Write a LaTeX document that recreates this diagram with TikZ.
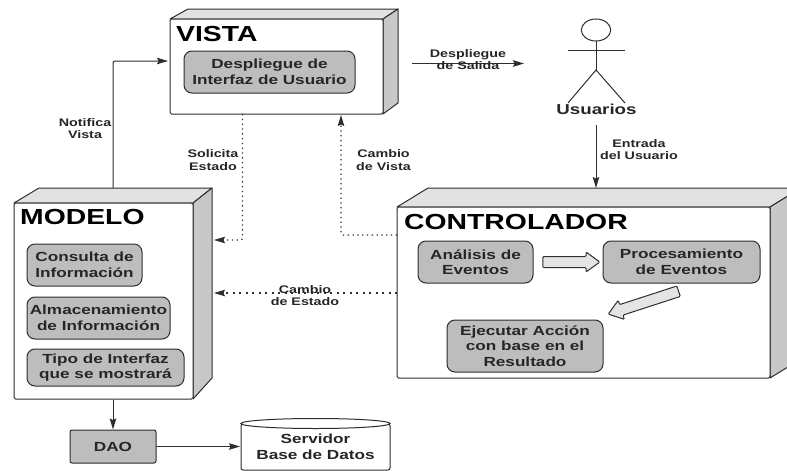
\documentclass[tikz,border=0pt]{standalone}
\usepackage{fontspec}
\setmainfont[FakeStretch=1.3]{Liberation Sans}
\usetikzlibrary{arrows.meta, shapes.arrows}

\definecolor{linegray}{HTML}{2E2E2E}
\definecolor{boxgray}{HTML}{BDBDBD}
\definecolor{sidegray}{HTML}{C8C8C8}
\definecolor{topgray}{HTML}{E2E2E2}
\definecolor{pipegray}{HTML}{E4E4E4}

\tikzset{
  frontbox/.style={draw=linegray, fill=white, line width=1pt, rounded corners=1.5pt, minimum width=#1, inner sep=0pt},
  sideface/.style={draw=linegray, fill=sidegray, line width=1pt, line join=round},
  topface/.style={draw=linegray, fill=topgray, line width=1pt, line join=round},
  titletext/.style={font=\bfseries\fontsize{21.8}{22}\selectfont, text=black, inner sep=0pt, anchor=west},
  actionbox/.style={draw=linegray, fill=boxgray, line width=1pt, rounded corners=8pt, inner sep=0pt, align=center,
    font=\bfseries\fontsize{13.2}{15.5}\selectfont, text=black!85},
  tag/.style={inner sep=0pt, align=center, font=\bfseries\fontsize{11}{12.8}\selectfont, text=black!85},
  flow/.style={draw=linegray, line width=1pt, -{Stealth[length=11pt,width=6.5pt,inset=1.5pt]}},
  polled/.style={flow, line width=1.2pt, dash pattern=on 1.3pt off 3.5pt, rounded corners=2pt},
  polledwide/.style={flow, line width=1.2pt, dash pattern=on 2pt off 4.5pt},
  pipe/.style={single arrow, draw=linegray, fill=pipegray, line width=1pt, inner xsep=0pt, inner ysep=5pt,
    single arrow head extend=4.5pt, single arrow tip angle=72, rounded corners=1pt},
  limb/.style={draw=linegray, line width=1pt},
}

\begin{document}
\begin{tikzpicture}[x=1pt, y=-1pt]
  \clip (0,0) rectangle (787,471);

  % VISTA
  \draw[topface] (170,19) -- (188,9) -- (398,9) -- (383,19) -- cycle;
  \draw[sideface] (383,19) -- (398,9) -- (398,103) -- (383,114) -- cycle;
  \node[frontbox=213pt, minimum height=95pt] (vista) at (276.5,66.5) {};
  \node[titletext] (vistaTitle) at (176,33.5) {VISTA};
  \node[actionbox, minimum width=171pt, minimum height=42pt] (despliegue) at (269.5,72) {Despliegue de\\Interfaz de Usuario};

  % MODELO
  \draw[topface] (14,203) -- (39,188) -- (212,188) -- (193,203) -- cycle;
  \draw[sideface] (193,203) -- (212,188) -- (212,378) -- (193,399) -- cycle;
  \node[frontbox=179pt, minimum height=196pt] (modelo) at (103.5,301) {};
  \node[titletext] (modeloTitle) at (20,217) {MODELO};
  \node[actionbox, minimum width=115pt, minimum height=42pt] (consulta) at (84.5,265) {Consulta de\\Información};
  \node[actionbox, minimum width=143pt, minimum height=42pt] (almacen) at (98.5,318) {Almacenamiento\\de Información};
  \node[actionbox, minimum width=157pt, minimum height=37pt] (tipo) at (105.5,367.5) {Tipo de Interfaz\\que se mostrará};

  % CONTROLADOR
  \draw[topface] (397,207) -- (428,188) -- (801,188) -- (770,207) -- cycle;
  \draw[sideface] (770,207) -- (801,188) -- (801,359) -- (770,378) -- cycle;
  \node[frontbox=373pt, minimum height=171pt] (control) at (583.5,292.5) {};
  \node[titletext] (controlTitle) at (404,222) {CONTROLADOR};
  \node[actionbox, minimum width=115pt, minimum height=42pt] (analisis) at (475.5,262) {Análisis de\\Eventos};
  \node[actionbox, minimum width=157pt, minimum height=42pt] (proceso) at (681.5,262) {Procesamiento\\de Eventos};
  \node[actionbox, minimum width=156pt, minimum height=52pt] (ejecutar) at (525,346) {Ejecutar Acción\\con base en el\\Resultado};
  \node[pipe, minimum height=57pt] (pipeA) at (567.5,262) {};
  \node[pipe, minimum height=74pt, rotate=198] (pipeB) at (647,301.5) {};

  % bottom row
  \node[actionbox, rounded corners=2pt, minimum width=86pt, minimum height=33pt] (dao) at (113,446.5) {DAO};
  \node[draw=linegray, fill=white, line width=1pt, rounded corners=2pt, minimum width=149pt, minimum height=46pt, inner sep=0pt,
    align=center, font=\bfseries\fontsize{13.2}{16.5}\selectfont, text=black!85] (servidor) at (315.5,447) {Servidor\\Base de Datos};
  \draw[draw=linegray, fill=white, line width=1pt] (servidor.north) ellipse (74.5 and 5);

  % actor
  \draw[limb] (596,30) ellipse (14.7 and 11);
  \coordinate (neck) at (596,41);
  \coordinate (hip) at (596,70);
  \coordinate (handL) at (568,50.5);
  \coordinate (handR) at (625,50.5);
  \coordinate (footL) at (568,103);
  \coordinate (footR) at (625,103);
  \draw[limb] (neck) -- (hip);
  \draw[limb] (handL) -- (handR);
  \draw[limb] (footL) -- (hip) -- (footR);
  \node[inner sep=0pt, font=\bfseries\fontsize{14.4}{15}\selectfont, text=black!85] (usuarios) at (596.5,109) {Usuarios};

  % connectors
  \coordinate (modeloTop) at (113,188);
  \coordinate (vistaIn) at (168,61);
  \coordinate (solicitaOut) at (242.5,114);
  \coordinate (modeloIn) at (214,240);
  \coordinate (cambioOut) at (397,235);
  \coordinate (vistaBack) at (341,115);
  \coordinate (estadoOut) at (397,293);
  \coordinate (estadoIn) at (214,293);
  \coordinate (salidaOut) at (412,63.5);
  \coordinate (salidaIn) at (524,63.5);
  \coordinate (entradaOut) at (596,125);
  \coordinate (entradaIn) at (596,188);
  \coordinate (daoOut) at (156,446.5);
  \coordinate (servidorIn) at (240,446.5);

  \draw[flow, rounded corners=2pt] (modeloTop) |- (vistaIn);
  \draw[polled] (solicitaOut) |- (modeloIn);
  \draw[polled] (cambioOut) -| (vistaBack);
  \draw[polledwide] (estadoOut) -- (estadoIn);
  \draw[flow] (salidaOut) -- (salidaIn);
  \draw[flow] (entradaOut) -- (entradaIn);
  \draw[flow] (modelo.south -| modeloTop) -- (dao.north);
  \draw[flow] (daoOut) -- (servidorIn);

  \node[tag] (notifica) at (85,128.5) {Notifica\\Vista};
  \node[tag] (solicita) at (213,160) {Solicita\\Estado};
  \node[tag] (cambioVista) at (383.5,160) {Cambio\\de Vista};
  \node[tag] (cambioEstado) at (305,295.5) {Cambio\\de Estado};
  \node[tag] (salida) at (468,59.5) {Despliegue\\de Salida};
  \node[tag] (entrada) at (639,149.5) {Entrada\\del Usuario};
\end{tikzpicture}
\end{document}
